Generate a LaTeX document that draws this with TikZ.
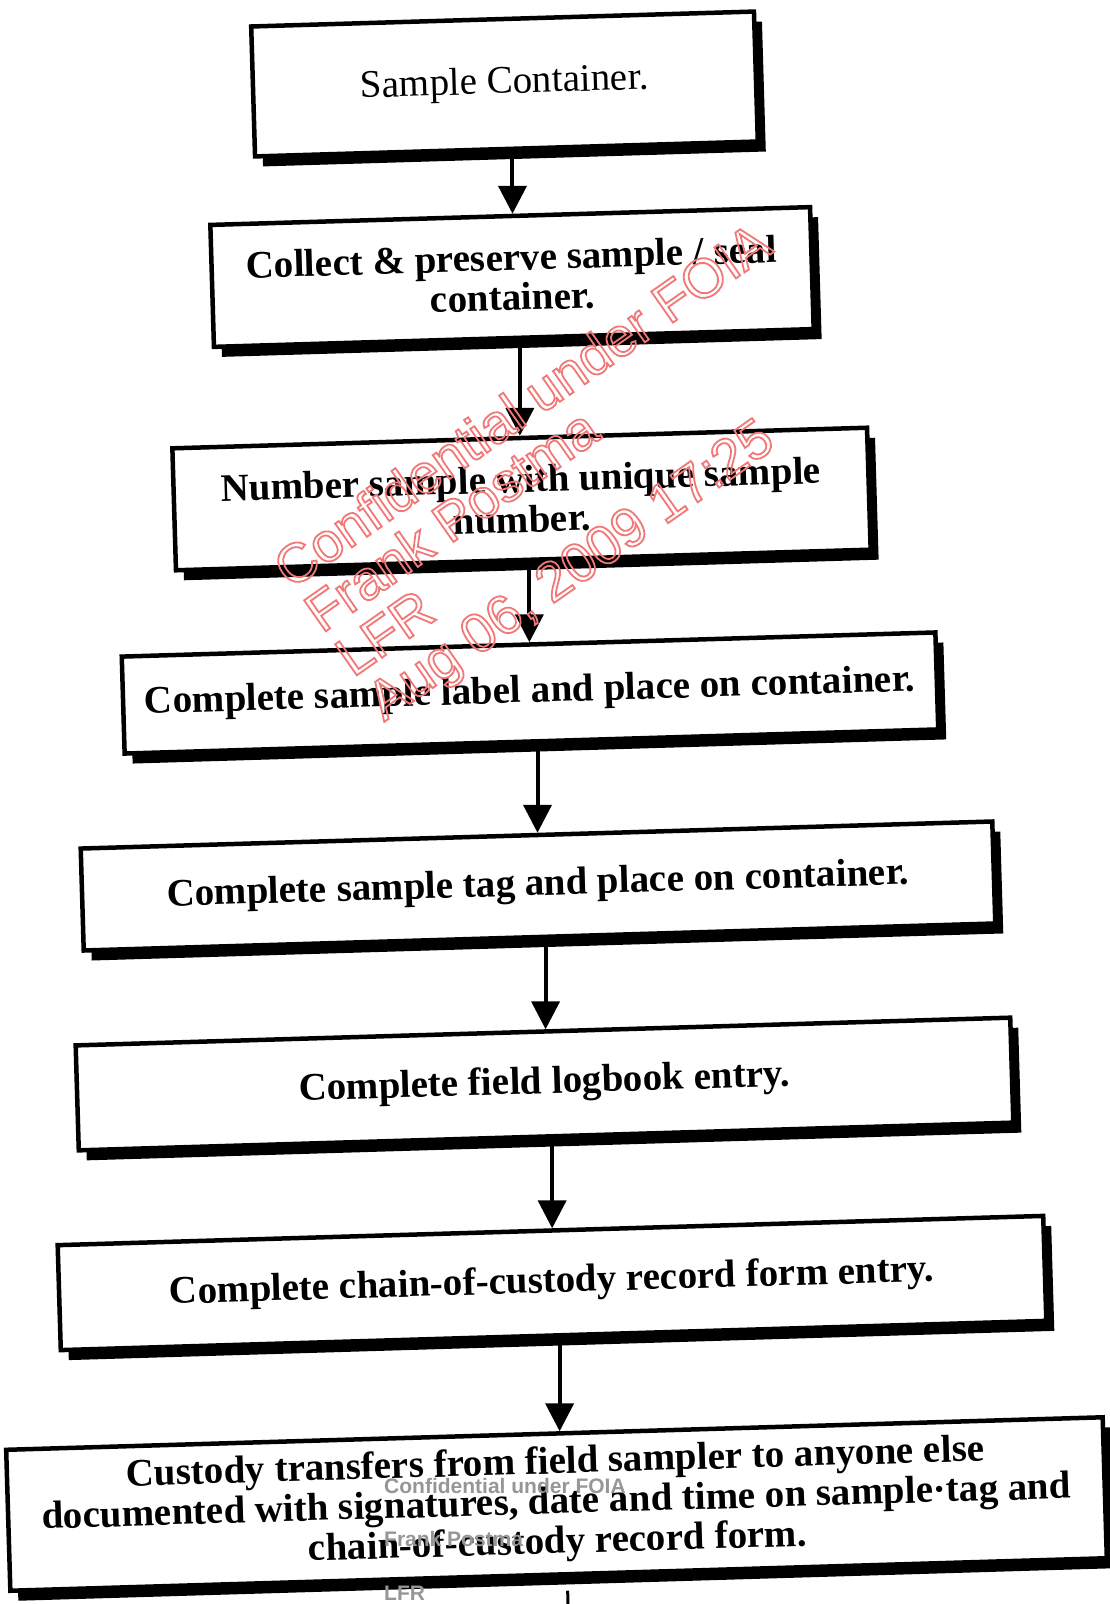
\documentclass[tikz,border=0pt]{standalone}
\usepackage{fontspec}
\setmainfont{Liberation Serif}
\newfontfamily\wmfont{Liberation Sans}
\usetikzlibrary{arrows.meta,shadows}
\definecolor{wmred}{RGB}{242,120,120}
\definecolor{wmgrey}{RGB}{150,150,150}
\newcommand\outlinetxt[1]{\special{pdf:literal direct 1 Tr 1.8 w}#1\special{pdf:literal direct 0 Tr}}
\tikzset{
  box/.style={draw, line width=4.5pt, fill=white, inner sep=0pt, align=center, rotate=1.7,
    font=\bfseries\fontsize{39}{40}\selectfont,
    drop shadow={shadow xshift=8pt, shadow yshift=-10pt, opacity=1, fill=black}},
  arr/.style={line width=4pt, -{Triangle[width=28pt,length=28pt]}},
  wmred/.style={text=wmred, font=\wmfont\fontsize{55}{56}\selectfont, rotate=35, inner sep=0pt, anchor=base west},
  wmgrey/.style={text=wmgrey, font=\wmfont\bfseries\fontsize{21}{22}\selectfont, inner sep=0pt, anchor=base west},
}
\begin{document}
\begin{tikzpicture}[x=1pt,y=-1pt]
\useasboundingbox[fill=white] (0,0) rectangle (1110,1604);

\node[box, minimum width=503pt, minimum height=130pt, font=\fontsize{39}{40}\selectfont] (b1) at (504.5,84) {Sample Container.};
\node[box, minimum width=600pt, minimum height=122pt] (b2) at (512,277) {Collect \& preserve sample / seal\\container.};
\node[box, minimum width=695pt, minimum height=122pt] (b3) at (521.5,499) {Number sample with unique sample\\number.};
\node[box, minimum width=814pt, minimum height=97pt] (b4) at (530,693) {Complete sample label and place on container.};
\node[box, minimum width=912pt, minimum height=102pt] (b5) at (538,886) {Complete sample tag and place on container.};
\node[box, minimum width=935pt, minimum height=105pt] (b6) at (544.5,1084) {Complete field logbook entry.};
\node[box, minimum width=986pt, minimum height=105pt] (b7) at (552,1283) {Complete chain-of-custody record form entry.};
\node[box, minimum width=1097pt, minimum height=141pt] (b8) at (556.5,1504) {Custody transfers from field sampler to anyone else\\documented with signatures, date and time on sample·tag and\\chain-of-custody record form.};

\foreach \a/\b in {b1/b2,b2/b3,b3/b4,b4/b5,b5/b6,b6/b7,b7/b8}{
  \draw[arr] ([xshift=6pt]\a.south) -- ([xshift=6pt]\a.south |- \b.north);
}
\coordinate (stub) at (568,1604);
\draw[line width=3pt] ([xshift=9pt,yshift=-14pt]b8.south) -- (stub);

\node[wmgrey] (g1) at (384,1493) {Confidential under FOIA};
\node[wmgrey] (g2) at (384,1546) {Frank Postma};
\node[wmgrey] (g3) at (384,1600) {LFR};

\node[wmred] (w1) at (291,590) {\outlinetxt{Confidential under FOIA}};
\node[wmred] (w2) at (322,634) {\outlinetxt{Frank Postma}};
\node[wmred] (w3) at (353,678) {\outlinetxt{LFR}};
\node[wmred] (w4) at (384,722) {\outlinetxt{Aug 06, 2009 17:25}};
\end{tikzpicture}
\end{document}
